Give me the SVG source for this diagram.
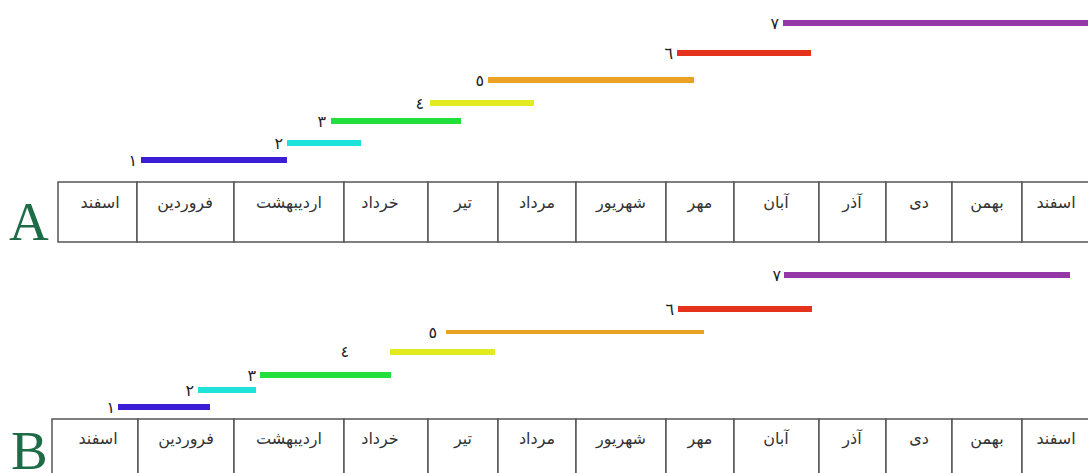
<svg xmlns="http://www.w3.org/2000/svg" width="1088" height="473" viewBox="0 0 1088 473">
<style>
.cell{fill:#fff;stroke:#555;stroke-width:1.5}
.mt{font-family:"DejaVu Sans",sans-serif;font-size:16px;fill:#333;text-anchor:middle}
.lb{font-family:"DejaVu Sans",sans-serif;font-size:16px;fill:#222;text-anchor:end}
.big{font-family:"Liberation Serif",serif;font-size:55px;fill:#1d6b47}
.bar{stroke-width:6;stroke-linecap:butt}
</style>
<rect width="1088" height="473" fill="#fff"/>
<g id="labelA"><text class="big" x="9" y="240">A</text></g>
<g id="labelB"><text class="big" x="11" y="469">B</text></g>
<g id="tableA">
<rect class="cell" x="58" y="182" width="79" height="60"/>
<rect class="cell" x="137" y="182" width="97" height="60"/>
<rect class="cell" x="234" y="182" width="110" height="60"/>
<rect class="cell" x="344" y="182" width="84" height="60"/>
<rect class="cell" x="428" y="182" width="70" height="60"/>
<rect class="cell" x="498" y="182" width="78" height="60"/>
<rect class="cell" x="576" y="182" width="90" height="60"/>
<rect class="cell" x="666" y="182" width="68" height="60"/>
<rect class="cell" x="734" y="182" width="85" height="60"/>
<rect class="cell" x="819" y="182" width="67" height="60"/>
<rect class="cell" x="886" y="182" width="66" height="60"/>
<rect class="cell" x="952" y="182" width="70" height="60"/>
<rect class="cell" x="1022" y="182" width="70" height="60"/>
<text class="mt" x="100" y="208">اسفند</text>
<text class="mt" x="185" y="208">فروردین</text>
<text class="mt" x="289" y="208">اردیبهشت</text>
<text class="mt" x="380" y="208">خرداد</text>
<text class="mt" x="463" y="208">تیر</text>
<text class="mt" x="537" y="208">مرداد</text>
<text class="mt" x="621" y="208">شهریور</text>
<text class="mt" x="700" y="208">مهر</text>
<text class="mt" x="776" y="208">آبان</text>
<text class="mt" x="852" y="208">آذر</text>
<text class="mt" x="919" y="208">دی</text>
<text class="mt" x="987" y="208">بهمن</text>
<text class="mt" x="1056" y="208">اسفند</text>
</g>
<g id="tableB">
<rect class="cell" x="52" y="419" width="86" height="60"/>
<rect class="cell" x="138" y="419" width="96" height="60"/>
<rect class="cell" x="234" y="419" width="110" height="60"/>
<rect class="cell" x="344" y="419" width="84" height="60"/>
<rect class="cell" x="428" y="419" width="70" height="60"/>
<rect class="cell" x="498" y="419" width="78" height="60"/>
<rect class="cell" x="576" y="419" width="90" height="60"/>
<rect class="cell" x="666" y="419" width="68" height="60"/>
<rect class="cell" x="734" y="419" width="85" height="60"/>
<rect class="cell" x="819" y="419" width="67" height="60"/>
<rect class="cell" x="886" y="419" width="66" height="60"/>
<rect class="cell" x="952" y="419" width="70" height="60"/>
<rect class="cell" x="1022" y="419" width="70" height="60"/>
<text class="mt" x="98" y="444">اسفند</text>
<text class="mt" x="186" y="444">فروردین</text>
<text class="mt" x="289" y="444">اردیبهشت</text>
<text class="mt" x="380" y="444">خرداد</text>
<text class="mt" x="463" y="444">تیر</text>
<text class="mt" x="537" y="444">مرداد</text>
<text class="mt" x="621" y="444">شهریور</text>
<text class="mt" x="700" y="444">مهر</text>
<text class="mt" x="776" y="444">آبان</text>
<text class="mt" x="852" y="444">آذر</text>
<text class="mt" x="919" y="444">دی</text>
<text class="mt" x="987" y="444">بهمن</text>
<text class="mt" x="1056" y="444">اسفند</text>
</g>
<g id="barsA">
<line class="bar" x1="141" y1="160" x2="287" y2="160" stroke="#3a1fd6"/>
<line class="bar" x1="287" y1="143" x2="361" y2="143" stroke="#1fe3da"/>
<line class="bar" x1="331" y1="121" x2="461" y2="121" stroke="#22e03c"/>
<line class="bar" x1="430" y1="103" x2="534" y2="103" stroke="#e2ea20"/>
<line class="bar" x1="488" y1="80" x2="694" y2="80" stroke="#e9a224"/>
<line class="bar" x1="677" y1="53" x2="811" y2="53" stroke="#e5321c"/>
<line class="bar" x1="783" y1="23" x2="1088" y2="23" stroke="#9438a8"/>
<text class="lb" x="137" y="166">١</text>
<text class="lb" x="283" y="149">٢</text>
<text class="lb" x="326" y="127">٣</text>
<text class="lb" x="424" y="109">٤</text>
<text class="lb" x="484" y="86">٥</text>
<text class="lb" x="673" y="59">٦</text>
<text class="lb" x="779" y="29">٧</text>
</g>
<g id="barsB">
<line class="bar" x1="118" y1="407" x2="210" y2="407" stroke="#3a1fd6"/>
<line class="bar" x1="198" y1="390" x2="256" y2="390" stroke="#1fe3da"/>
<line class="bar" x1="260" y1="375" x2="391" y2="375" stroke="#22e03c"/>
<line class="bar" x1="390" y1="352" x2="495" y2="352" stroke="#e2ea20"/>
<line x1="446" y1="332" x2="704" y2="332" stroke="#e9a224" stroke-width="4"/>
<line class="bar" x1="678" y1="309" x2="812" y2="309" stroke="#e5321c"/>
<line class="bar" x1="784" y1="275" x2="1070" y2="275" stroke="#9438a8"/>
<text class="lb" x="115" y="413">١</text>
<text class="lb" x="194" y="396">٢</text>
<text class="lb" x="256" y="381">٣</text>
<text class="lb" x="349" y="357">٤</text>
<text class="lb" x="437" y="338">٥</text>
<text class="lb" x="674" y="315">٦</text>
<text class="lb" x="781" y="281">٧</text>
</g>
</svg>
